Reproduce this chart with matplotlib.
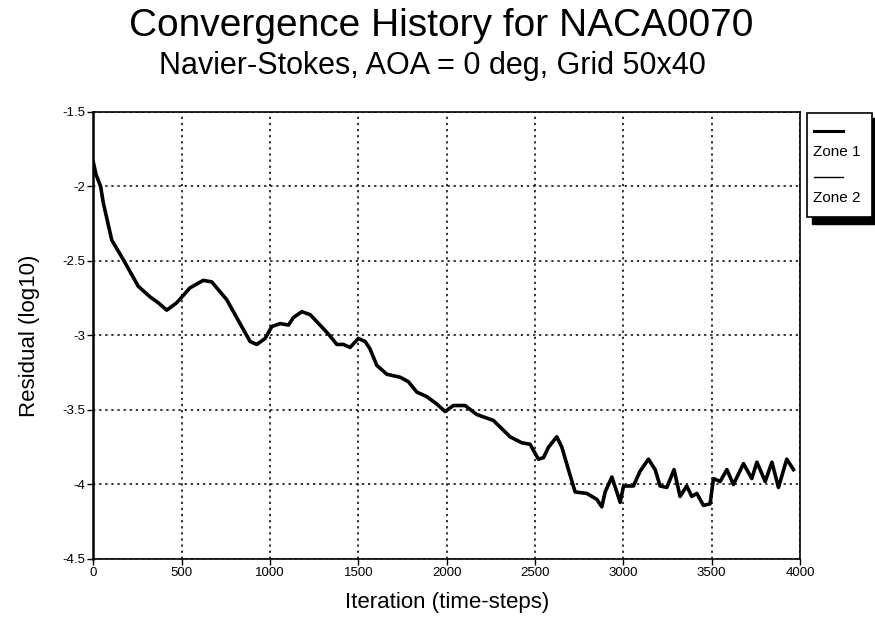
import matplotlib
matplotlib.use("Agg")
import matplotlib.pyplot as plt
from matplotlib.patches import Rectangle
from matplotlib.lines import Line2D

# values
iterations = [0, 15, 41, 56, 104, 169, 254, 320, 367, 415, 472, 547, 622, 670,
              755, 830, 887, 925, 972, 1010, 1057, 1104, 1132, 1180, 1227, 1283,
              1330, 1378, 1415, 1453, 1500, 1538, 1566, 1604, 1661, 1736, 1783,
              1831, 1887, 1944, 1991, 2038, 2104, 2170, 2264, 2359, 2425, 2472,
              2519, 2548, 2576, 2623, 2652, 2689, 2727, 2793, 2850, 2878, 2897,
              2935, 2963, 2982, 3001, 3057, 3095, 3142, 3180, 3208, 3246, 3287,
              3321, 3359, 3387, 3416, 3453, 3491, 3510, 3548, 3586, 3623, 3680,
              3727, 3756, 3803, 3841, 3878, 3925, 3963]
residual = [-1.84, -1.92, -2.00, -2.11, -2.36, -2.49, -2.67, -2.74, -2.78, -2.83,
            -2.78, -2.68, -2.63, -2.64, -2.76, -2.92, -3.04, -3.06, -3.02, -2.94,
            -2.92, -2.93, -2.88, -2.84, -2.86, -2.93, -2.99, -3.06, -3.06, -3.08,
            -3.02, -3.04, -3.09, -3.20, -3.26, -3.28, -3.31, -3.38, -3.41, -3.46,
            -3.51, -3.47, -3.47, -3.53, -3.57, -3.68, -3.72, -3.73, -3.83, -3.82,
            -3.75, -3.68, -3.75, -3.90, -4.05, -4.06, -4.10, -4.15, -4.05, -3.95,
            -4.05, -4.12, -4.01, -4.01, -3.91, -3.83, -3.90, -4.01, -4.02, -3.90,
            -4.08, -4.01, -4.08, -4.06, -4.14, -4.13, -3.96, -3.98, -3.90, -4.00,
            -3.86, -3.96, -3.85, -3.98, -3.85, -4.02, -3.83, -3.90]
zone_names = ["Zone 1", "Zone 2"]
xticks = [0, 500, 1000, 1500, 2000, 2500, 3000, 3500, 4000]
yticks = [-1.5, -2, -2.5, -3, -3.5, -4, -4.5]

W, H = 875, 619
plt.rcParams["font.family"] = ["Liberation Sans", "DejaVu Sans"]

fig = plt.figure(figsize=(W / 100, H / 100), dpi=100)
ax = fig.add_axes([93.4 / W, 1 - 559 / H, (800 - 93.4) / W, (559 - 112) / H])

ax.plot(iterations, residual, color="black", lw=2.6, zorder=3)
ax.plot(iterations, residual, color="black", lw=0.8, zorder=4)

ax.set_xlim(0, 4000)
ax.set_ylim(-4.5, -1.5)
ax.set_xticks(xticks)
ax.set_yticks(yticks)
ax.set_yticklabels([f"{v:g}" for v in yticks])
ax.tick_params(direction="out", length=4, width=1, labelsize=9.5, pad=2, color="black")
ax.grid(True, color="black", linestyle=(0, (1.5, 2.5)), linewidth=1.1)
for s in ["top", "right", "bottom"]:
    ax.spines[s].set_linewidth(1.2)
ax.spines["left"].set_linewidth(1.8)

ax.set_xlabel("Iteration (time-steps)", fontsize=16, labelpad=9)
ax.set_ylabel("Residual (log10)", fontsize=16, labelpad=16)

fig.text(441 / W, 1 - 26 / H, "Convergence History for NACA0070",
         fontsize=28, ha="center", va="center")
fig.text(432 / W, 1 - 66 / H, "Navier-Stokes, AOA = 0 deg, Grid 50x40",
         fontsize=22, ha="center", va="center")

# legend box with drop shadow, drawn by hand like the original
def fx(px):
    return px / W

def fy(py):
    return 1 - py / H

fig.patches.append(Rectangle((fx(812), fy(224)), fx(875) - fx(812), fy(118) - fy(224),
                             transform=fig.transFigure, color="black", zorder=1))
fig.patches.append(Rectangle((fx(807), fy(217)), fx(872) - fx(807), fy(113) - fy(217),
                             transform=fig.transFigure, facecolor="white",
                             edgecolor="black", lw=1.2, zorder=2))
for name, ly, ty, lw in [(zone_names[0], 131, 152, 2.2), (zone_names[1], 177, 198, 1.0)]:
    fig.lines.append(Line2D([fx(814), fx(843)], [fy(ly), fy(ly)], color="black", lw=lw,
                            transform=fig.transFigure, zorder=3))
    fig.text(fx(813), fy(ty), name, fontsize=11, ha="left", va="center", zorder=3)

fig.savefig("out.png", dpi=100)
